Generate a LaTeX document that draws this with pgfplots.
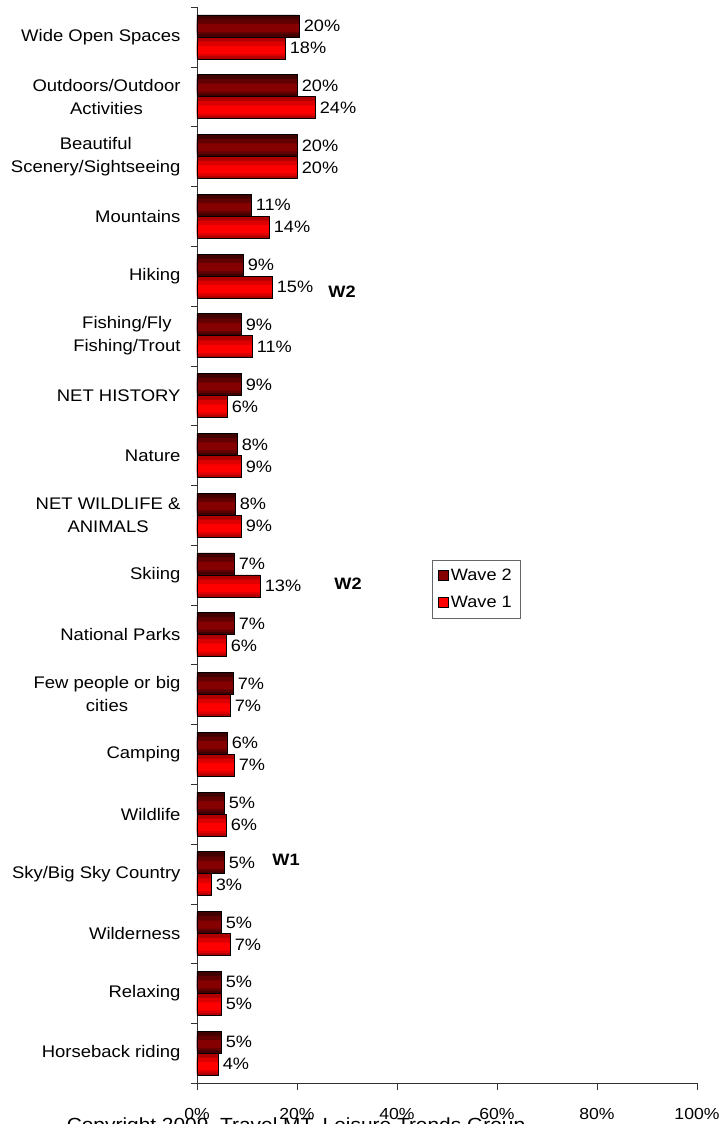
\documentclass[border=0pt]{standalone}
\usepackage{pgfplots}
\pgfplotsset{compat=1.18}
\usepackage{pgfplotstable}
\usepackage{fontspec}
\setmainfont{Liberation Sans}[FakeStretch=1.1]
\definecolor{wtwoa}{HTML}{400000}
\definecolor{wtwob}{HTML}{600000}
\definecolor{wtwoc}{HTML}{850000}
\definecolor{wonea}{HTML}{B00000}
\definecolor{woneb}{HTML}{DD0000}
\definecolor{wonec}{HTML}{FF0000}
\pgfplotstableread{
idx w2 w1
17 20.4 17.6
16 20.0 23.6
15 20.0 20.0
14 10.8 14.4
13 9.2 15.0
12 8.8 11.0
11 8.8 6.0
10 8.0 8.8
9 7.6 8.8
8 7.4 12.6
7 7.4 5.8
6 7.2 6.6
5 6.0 7.4
4 5.4 5.8
3 5.4 2.8
2 4.8 6.6
1 4.8 4.8
0 4.8 4.2
}\datatable
\begin{document}
\begin{tikzpicture}
\useasboundingbox (-197pt,-41pt) rectangle (523pt,1083pt);
\begin{axis}[
  scale only axis, width=500pt, height=1076pt,
  at={(0pt,0pt)}, anchor=south west,
  xbar, bar width=22pt,
  xmin=0, xmax=100, ymin=-0.5, ymax=17.5,
  /pgf/number format/assume math mode=true,
  font=\fontsize{16}{19}\selectfont,
  xtick={0,20,...,100},
  xticklabel={\pgfmathprintnumber{\tick}\%},
  xticklabel style={yshift=-15pt},
  ytick={0,...,17},
  yticklabels={Horseback riding, Relaxing, Wilderness, Sky/Big Sky Country, Wildlife, Camping, {Few people or big\\cities}, National Parks, Skiing, {NET WILDLIFE \&\\ANIMALS}, Nature, NET HISTORY, {Fishing/Fly\\Fishing/Trout}, Hiking, Mountains, {Beautiful\\Scenery/Sightseeing}, {Outdoors/Outdoor\\Activities}, Wide Open Spaces},
  yticklabel style={align=center, font=\fontsize{16.8}{23}\selectfont, xshift=-6pt},
  major y tick style={draw=none},
  minor ytick={-0.5,0.5,...,17.5},
  axis x line*=bottom, axis y line*=left,
  axis line style={-, black!80},
  tick style={black!80},
  tick align=outside, major tick length=7pt, minor tick length=6pt,
  clip=false,
  legend style={at={(0.47,0.486)}, anchor=north west, draw=black!60, font=\fontsize{16.5}{19}\selectfont, row sep=10pt, inner xsep=6pt, inner ysep=7pt, cells={anchor=west}},
]
% Wave 2 layers
\addplot[forget plot, draw=none, fill=wtwoa, bar width=22pt, bar shift=11pt] table[x=w2, y=idx] {\datatable};
\addplot[forget plot, draw=none, fill=wtwob, bar width=15pt, bar shift=10pt] table[x=w2, y=idx] {\datatable};
\addplot[forget plot, draw=none, fill=wtwoc, bar width=8pt, bar shift=9pt] table[x=w2, y=idx] {\datatable};
% Wave 1 layers
\addplot[forget plot, draw=none, fill=wonea, bar width=22pt, bar shift=-11pt] table[x=w1, y=idx] {\datatable};
\addplot[forget plot, draw=none, fill=woneb, bar width=15pt, bar shift=-12pt] table[x=w1, y=idx] {\datatable};
\addplot[forget plot, draw=none, fill=wonec, bar width=8pt, bar shift=-13pt] table[x=w1, y=idx] {\datatable};
% outlines, labels, legend
\addplot[draw=black, line width=0.7pt, fill=none, bar width=22pt, bar shift=11pt,
  point meta=x,
  nodes near coords={\pgfmathprintnumber[fixed,precision=0]{\pgfplotspointmeta}\%},
  every node near coord/.append style={black, font=\fontsize{16.5}{19}\selectfont, inner sep=4.5pt},
  legend image code/.code={\draw[draw=black, fill=wtwoc] (0pt,-5pt) rectangle (10pt,5pt);}]
  table[x=w2, y=idx] {\datatable};
\addlegendentry{Wave 2}
\addplot[draw=black, line width=0.7pt, fill=none, bar width=22pt, bar shift=-11pt,
  point meta=x,
  nodes near coords={\pgfmathprintnumber[fixed,precision=0]{\pgfplotspointmeta}\%},
  every node near coord/.append style={black, font=\fontsize{16.5}{19}\selectfont, inner sep=4.5pt},
  legend image code/.code={\draw[draw=black, fill=wonec] (0pt,-5pt) rectangle (10pt,5pt);}]
  table[x=w1, y=idx] {\datatable};
\addlegendentry{Wave 1}
\node[font=\bfseries\fontsize{16.5}{19}\selectfont] at (axis cs:29,12.74) {W2};
\node[font=\bfseries\fontsize{16.5}{19}\selectfont] at (axis cs:30.2,7.86) {W2};
\node[font=\bfseries\fontsize{16.5}{19}\selectfont] at (axis cs:17.8,3.23) {W1};
\node[anchor=base, font=\fontsize{19}{22}\selectfont] at ([yshift=-48.5pt]axis cs:19.8,-0.5) {Copyright 2009, Travel MT, Leisure Trends Group};
\end{axis}
\end{tikzpicture}
\end{document}
